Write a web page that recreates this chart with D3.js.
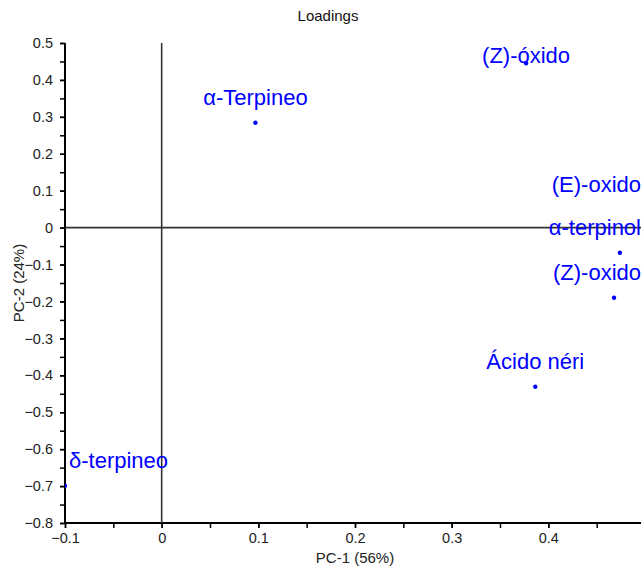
<!DOCTYPE html>
<html>
<head>
<meta charset="utf-8">
<script src="https://cdn.jsdelivr.net/npm/d3@7"></script>
<style>
  body { margin: 0; background: #fff; }
  svg { display: block; font-family: Arial, "Liberation Sans", sans-serif; }
</style>
</head>
<body>
<div id="chart"></div>
<script>
const names = ['α-Terpineo', '(Z)-óxido', '(E)-oxido', 'α-terpinol', '(Z)-oxido', 'Ácido néri', 'δ-terpineo'];
const pc1 = [0.097, 0.377, 0.52, 0.474, 0.468, 0.3865, -0.1];
const pc2 = [0.284, 0.445, 0.05, -0.068, -0.19, -0.431, -0.699];
const xTicks = [-0.1, 0, 0.1, 0.2, 0.3, 0.4];
const yTicks = [0.5, 0.4, 0.3, 0.2, 0.1, 0, -0.1, -0.2, -0.3, -0.4, -0.5, -0.6, -0.7, -0.8];

const margin = { top: 43, right: -4, bottom: 47, left: 65 };
const W = 641, H = 570;
const width = W - margin.left - margin.right;
const height = H - margin.top - margin.bottom;

const svg = d3.select('#chart')
  .append('svg')
  .attr('width', W)
  .attr('height', H);

svg.append('text')
  .attr('x', 328)
  .attr('y', 21)
  .attr('text-anchor', 'middle')
  .attr('font-size', 15)
  .attr('fill', '#111')
  .text('Loadings');

const g = svg.append('g')
  .attr('transform', `translate(${margin.left}, ${margin.top})`);

const x = d3.scaleLinear().domain([-0.1, 0.5]).range([0, width]);
const y = d3.scaleLinear().domain([-0.8, 0.5]).range([height, 0]);

g.append('clipPath').attr('id', 'plot')
  .append('rect').attr('width', width).attr('height', height);

const fmt = d => d === 0 ? '0' : d3.format('.1f')(d);

// minor ticks
const xMinor = d3.range(-0.1, 0.5001, 0.05);
const yMinor = d3.range(-0.8, 0.5001, 0.05);

g.append('g')
  .attr('transform', `translate(0, ${height})`)
  .call(d3.axisBottom(x).tickValues(xMinor).tickSize(5).tickFormat(''))
  .call(a => a.select('.domain').remove())
  .selectAll('line').attr('stroke', '#000').attr('stroke-width', 1.5);

g.append('g')
  .call(d3.axisLeft(y).tickValues(yMinor).tickSize(5).tickFormat(''))
  .call(a => a.select('.domain').remove())
  .selectAll('line').attr('stroke', '#000').attr('stroke-width', 1.5);

const xAxis = g.append('g')
  .attr('transform', `translate(0, ${height})`)
  .call(d3.axisBottom(x).tickValues(xTicks).tickSize(5).tickPadding(5).tickFormat(fmt));
xAxis.select('.domain').attr('stroke-width', 2).attr('d', `M-1,0H${width}`);
xAxis.selectAll('line').attr('stroke-width', 1.5);
xAxis.selectAll('text').attr('font-size', 14.5).attr('fill', '#222').attr('font-family', 'Arial, "Liberation Sans", sans-serif');

const yAxis = g.append('g')
  .call(d3.axisLeft(y).tickValues(yTicks).tickSize(5).tickPadding(7).tickFormat(fmt));
yAxis.select('.domain').attr('stroke-width', 2).attr('d', `M0,0V${height + 1}`);
yAxis.selectAll('line').attr('stroke-width', 1.5);
yAxis.selectAll('text').attr('font-size', 14.5).attr('fill', '#222').attr('font-family', 'Arial, "Liberation Sans", sans-serif');

svg.append('text')
  .attr('x', margin.left + x(0.2))
  .attr('y', 563)
  .attr('text-anchor', 'middle')
  .attr('font-size', 15)
  .attr('fill', '#222')
  .text('PC-1 (56%)');

svg.append('text')
  .attr('transform', `translate(24, ${margin.top + height / 2}) rotate(-90)`)
  .attr('text-anchor', 'middle')
  .attr('font-size', 15)
  .attr('fill', '#222')
  .text('PC-2 (24%)');

const plot = g.append('g').attr('clip-path', 'url(#plot)');

// zero lines
plot.append('line')
  .attr('x1', 0).attr('x2', width)
  .attr('y1', y(0)).attr('y2', y(0))
  .attr('stroke', '#333').attr('stroke-width', 1.6);
plot.append('line')
  .attr('x1', x(0)).attr('x2', x(0))
  .attr('y1', 0).attr('y2', height)
  .attr('stroke', '#333').attr('stroke-width', 1.6);

const data = names.map((n, i) => ({ name: n, px: pc1[i], py: pc2[i] }));

plot.selectAll('circle')
  .data(data)
  .enter().append('circle')
  .attr('cx', d => x(d.px))
  .attr('cy', d => y(d.py))
  .attr('r', 2.2)
  .attr('fill', '#0000ff');

// labels: centred above the point, pushed back inside the plot area
const pad = 4;
plot.selectAll('.lbl')
  .data(data)
  .enter().append('text')
  .attr('class', 'lbl')
  .attr('font-size', 22)
  .attr('fill', '#0000ff')
  .text(d => d.name)
  .each(function (d) {
    const w = this.getComputedTextLength();
    let lx = x(d.px) - w / 2;
    lx = Math.max(pad, Math.min(width - pad - w, lx));
    let ly = y(d.py) - 17.5;
    ly = Math.max(pad + 16, Math.min(height - pad, ly));
    d3.select(this).attr('x', lx).attr('y', ly);
  });
</script>
</body>
</html>
